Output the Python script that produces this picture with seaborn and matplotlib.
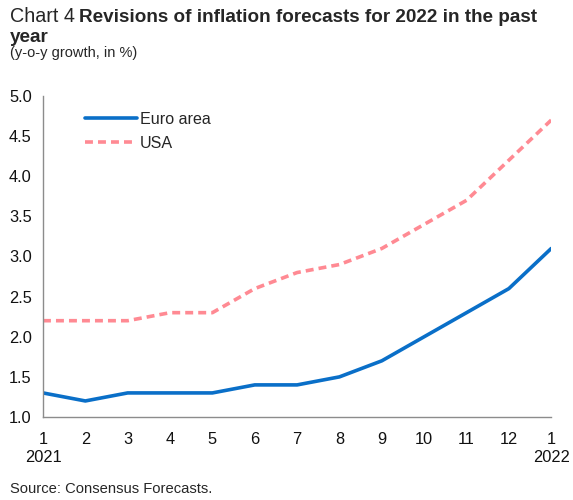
import matplotlib
matplotlib.use("Agg")
import matplotlib.pyplot as plt
import seaborn as sns
import pandas as pd

# Monthly survey rounds, Jan 2021 to Jan 2022
months = list(range(1, 14))
month_labels = ["1\n2021", "2", "3", "4", "5", "6", "7", "8", "9", "10", "11", "12", "1\n2022"]
euro_area = [1.3, 1.2, 1.3, 1.3, 1.3, 1.4, 1.4, 1.5, 1.7, 2.0, 2.3, 2.6, 3.1]
usa = [2.2, 2.2, 2.2, 2.3, 2.3, 2.6, 2.8, 2.9, 3.1, 3.4, 3.7, 4.2, 4.7]

df = pd.concat([
    pd.DataFrame({"month": months, "value": euro_area, "series": "Euro area"}),
    pd.DataFrame({"month": months, "value": usa, "series": "USA"}),
])

sns.set_theme(style="white")
plt.rcParams["font.family"] = ["Liberation Sans", "DejaVu Sans"]

fig = plt.figure(figsize=(5.73, 5.0), dpi=100)
ax = fig.add_axes([0.075, 0.166, 0.887, 0.642])

sns.lineplot(
    data=df, x="month", y="value", hue="series", style="series",
    palette={"Euro area": "#0A6FC8", "USA": "#FF8A93"},
    dashes={"Euro area": "", "USA": (2.2, 1.4)},
    linewidth=2.6, ax=ax, legend=True,
)

ax.set_xlim(1, 13)
ax.set_ylim(1.0, 5.0)
ax.set_yticks([1.0, 1.5, 2.0, 2.5, 3.0, 3.5, 4.0, 4.5, 5.0])
ax.set_yticklabels([f"{v:.1f}" for v in ax.get_yticks()], fontsize=11.8, color="#111111")
ax.set_xticks(months)
ax.set_xticklabels(month_labels, fontsize=11.8, color="#111111", linespacing=1.2)
ax.set_xlabel("")
ax.set_ylabel("")
ax.tick_params(axis="x", length=0, pad=11)
ax.tick_params(axis="y", length=0, pad=8)

for side in ["top", "right"]:
    ax.spines[side].set_visible(False)
for side in ["left", "bottom"]:
    ax.spines[side].set_color("#8C8C8C")
    ax.spines[side].set_linewidth(1.0)

leg = ax.legend(
    loc="upper left", bbox_to_anchor=(0.055, 0.995), frameon=False,
    fontsize=11.6, handlelength=3.2, handletextpad=0.2, labelspacing=0.55,
)

# Title: regular prefix followed by a bold heading
prefix = fig.text(0.017, 0.956, "Chart 4", fontsize=14.2, ha="left", va="baseline")
fig.canvas.draw()
bb = prefix.get_window_extent(renderer=fig.canvas.get_renderer())
x_bold = (bb.x1 + 4) / fig.bbox.width
fig.text(x_bold, 0.956, "Revisions of inflation forecasts for 2022 in the past",
         fontsize=13.6, fontweight="bold", ha="left", va="baseline")
fig.text(0.017, 0.916, "year", fontsize=13.6, fontweight="bold", ha="left", va="baseline")
fig.text(0.017, 0.886, "(y-o-y growth, in %)", fontsize=10.5, ha="left", va="baseline")
fig.text(0.017, 0.014, "Source: Consensus Forecasts.", fontsize=10.6, ha="left", va="baseline")

fig.savefig("out.png", dpi=100)
